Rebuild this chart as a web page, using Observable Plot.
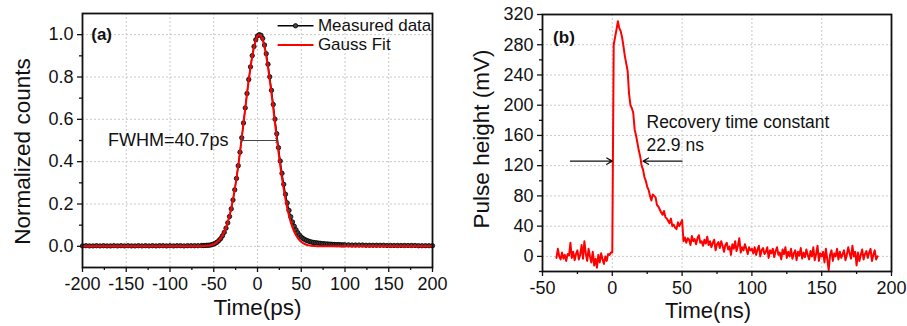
<!DOCTYPE html>
<html>
<head>
<meta charset="utf-8">
<script src="https://cdn.jsdelivr.net/npm/d3@7"></script>
<script src="https://cdn.jsdelivr.net/npm/@observablehq/plot@0.6"></script>
<style>
  html, body { margin: 0; padding: 0; background: #fff; }
  #wrap { position: relative; width: 907px; height: 326px; overflow: hidden; }
  #pa { position: absolute; left: 0; top: 0; }
  #pb { position: absolute; left: 450px; top: 0; }
</style>
</head>
<body>
<div id="wrap"><div id="pa"></div><div id="pb"></div></div>
<script>
// ---------- Panel (a) data ----------
const measT = [...d3.range(-200, -63, 4), ...d3.range(-62, 101, 2), ...d3.range(104, 201, 4)];
const measV = [
  // -200 .. -64 (step 4)
  0.002,0.003,0.002,0.002,0.003,0.002,0.003,0.002,0.002,0.003,
  0.002,0.003,0.002,0.003,0.002,0.002,0.003,0.002,0.003,0.002,
  0.003,0.002,0.003,0.003,0.002,0.003,0.002,0.003,0.003,0.002,
  0.003,0.003,0.003,0.003,0.004,
  // -62 .. 100 (step 2)
  0.004,0.004,0.005,0.005,0.006,0.008,0.011,0.015,0.020,0.028,
  0.037,0.050,0.066,0.086,0.111,0.141,0.177,0.219,0.267,0.321,
  0.381,0.445,0.513,0.583,0.654,0.722,0.788,0.848,0.901,0.944,
  0.976,0.994,1.000,0.997,0.982,0.951,0.910,0.860,0.801,0.737,
  0.670,0.601,0.532,0.466,0.403,0.345,0.293,0.246,0.205,0.170,
  0.140,0.115,0.095,0.078,0.064,0.053,0.044,0.037,0.032,0.028,
  0.025,0.022,0.020,0.018,0.017,0.016,0.015,0.014,0.013,0.012,
  0.011,0.011,0.010,0.010,0.009,0.009,0.008,0.008,0.008,0.007,
  0.007,0.007,
  // 104 .. 200 (step 4)
  0.007,0.006,0.006,0.006,0.006,0.005,0.005,0.005,0.005,0.005,
  0.005,0.004,0.004,0.004,0.004,0.004,0.004,0.004,0.004,0.004,
  0.003,0.003,0.003,0.003,0.003
];
const fitT = [-200, ...d3.range(-64, 70, 2), 200];
const fitV = [
  0,
  0.0007,0.0010,0.0016,0.0024,0.0036,0.0052,0.0076,0.0108,0.0152,0.0211,
  0.0289,0.0391,0.0522,0.0686,0.0891,0.1142,0.1443,0.1800,0.2215,0.2690,
  0.3224,0.3812,0.4447,0.5118,0.5813,0.6514,0.7202,0.7857,0.8458,0.8984,
  0.9415,0.9736,0.9933,
  0.9990,
  0.9933,0.9736,0.9415,0.8984,0.8458,0.7857,0.7202,0.6514,0.5813,0.5118,
  0.4447,0.3812,0.3224,0.2690,0.2215,0.1800,0.1443,0.1142,0.0891,0.0686,
  0.0522,0.0391,0.0289,0.0211,0.0152,0.0108,0.0076,0.0052,0.0036,0.0024,
  0.0016,0.0010,0.0007,
  0
];
const xTicksA = [-200,-150,-100,-50,0,50,100,150,200];
const xMinorA = [-175,-125,-75,-25,25,75,125,175];
const yTicksA = [0,0.2,0.4,0.6,0.8,1.0];
const yMinorA = [0.1,0.3,0.5,0.7,0.9];
const legendA = ["Measured data", "Gauss Fit"];

// ---------- Panel (b) data ----------
const pulseT = d3.range(-40, 191, 1);
const pulseV = [
  // -40 .. -1
  -2,10,0,-4,5,-3,2,-6,3,1,
  18,-2,6,-5,3,8,-4,2,15,-3,
  20,4,-6,10,0,-8,6,-12,-3,-15,
  2,-8,4,-4,-10,0,-6,3,2,5,
  // 0 .. 189
  5,280,290,300,311,302,298,290,278,265,
  255,245,215,200,196,190,168,160,150,140,
  132,120,115,105,100,92,88,80,74,82,
  80,78,68,66,62,58,55,60,52,50,
  47,44,50,40,42,38,36,45,40,44,
  48,20,25,18,24,22,15,27,20,23,
  16,24,28,18,20,14,22,17,26,15,
  20,12,18,22,8,16,19,11,20,14,
  6,15,18,9,13,2,16,10,20,7,
  14,24,5,12,8,16,10,3,12,8,
  10,4,12,2,9,14,0,8,11,3,
  6,12,-2,8,4,10,-1,7,12,2,
  5,-4,9,3,12,-2,6,0,10,-3,
  4,8,-5,6,1,11,-3,5,-1,9,
  2,-4,7,0,12,-5,3,14,-6,4,
  0,6,-8,10,-4,-18,2,8,-6,4,
  0,10,-4,6,-2,3,8,-5,2,12,
  4,-3,14,0,6,-12,5,-6,2,9,
  -4,3,7,-2,5,10,-6,2,8,-4,
  // 190
  0
];
const xTicksB = [-50,0,50,100,150,200];
const xMinorB = [-25,25,75,125,175];
const yTicksB = [0,40,80,120,160,200,240,280,320];
const yMinorB = [-20,20,60,100,140,180,220,260,300];

// ---------- build ----------
const FONT = "'Liberation Sans', Arial, Helvetica, sans-serif";
const measured = measT.map((t, i) => ({t, v: measV[i]}));
const fit = fitT.map((t, i) => ({t, v: fitV[i]}));
const pulse = pulseT.map((t, i) => ({t, v: pulseV[i]}));
const grid = {stroke: "#c8c8c8", strokeOpacity: 1, strokeDasharray: "2,2", strokeWidth: 1};

const plotA = Plot.plot({
  width: 450, height: 326,
  marginLeft: 82, marginRight: 18, marginTop: 13, marginBottom: 59,
  style: {fontFamily: FONT, color: "#111", background: "transparent"},
  x: {domain: [-200, 200]},
  y: {domain: [-0.1, 1.1]},
  marks: [
    Plot.gridX(xTicksA.slice(1, -1), grid),
    Plot.gridY(yTicksA, grid),
    Plot.axisX(xTicksA, {tickSize: 5, tickPadding: 5, fontSize: 18, tickFormat: d => String(d), label: null, strokeWidth: 1.3}),
    Plot.axisX(xMinorA, {tickSize: 3, tickFormat: () => "", label: null, strokeWidth: 1.3}),
    Plot.axisY(yTicksA, {tickSize: 5, tickPadding: 4, fontSize: 18, tickFormat: d3.format(".1f"), label: null, strokeWidth: 1.3}),
    Plot.axisY(yMinorA, {tickSize: 3, tickFormat: () => "", label: null, strokeWidth: 1.3}),
    Plot.line(measured, {x: "t", y: "v", stroke: "#000", strokeWidth: 1.3}),
    Plot.dot(measured, {x: "t", y: "v", r: 2.2, fill: "#444", stroke: "#000", strokeWidth: 0.8}),
    Plot.line(fit, {x: "t", y: "v", stroke: "#ff0000", strokeWidth: 2}),
    // FWHM marker
    Plot.link([0], {x1: -18, x2: 22, y1: 0.5, y2: 0.5, stroke: "#444", strokeWidth: 1, markerStart: "arrow", markerEnd: "arrow"}),
    Plot.text(["FWHM=40.7ps"], {x: -33, y: 0.5, textAnchor: "end", fontSize: 18, fill: "#111"}),
    Plot.text(["(a)"], {x: -190, y: 1.0, textAnchor: "start", fontSize: 17, fontWeight: "bold", fill: "#111"}),
    // legend
    Plot.link([0], {x1: 23, x2: 64, y1: 1.042, y2: 1.042, stroke: "#000", strokeWidth: 1.6}),
    Plot.dot([0], {x: 43.5, y: 1.042, r: 2.2, fill: "#444", stroke: "#000", strokeWidth: 0.8}),
    Plot.link([0], {x1: 23, x2: 64, y1: 0.951, y2: 0.951, stroke: "#ff0000", strokeWidth: 2}),
    Plot.text(legendA, {x: 69, y: [1.042, 0.951], textAnchor: "start", fontSize: 17, fill: "#111"}),
    // axis titles
    Plot.text(["Normalized counts"], {frameAnchor: "left", textAnchor: "middle", lineAnchor: "middle", rotate: -90, dx: -60, dy: 11, fontSize: 22.5, fill: "#111"}),
    Plot.text(["Time(ps)"], {frameAnchor: "bottom", textAnchor: "middle", lineAnchor: "middle", dy: 40, fontSize: 22.5, fill: "#111"}),
    Plot.frame({stroke: "#111", strokeWidth: 1.8})
  ]
});
document.getElementById("pa").append(plotA);

const plotB = Plot.plot({
  width: 457, height: 326,
  marginLeft: 92, marginRight: 16, marginTop: 14, marginBottom: 55,
  style: {fontFamily: FONT, color: "#111", background: "transparent"},
  x: {domain: [-50, 200]},
  y: {domain: [-20, 320]},
  marks: [
    Plot.gridX([0, 50, 100, 150], grid),
    Plot.gridY(yTicksB.slice(0, -1), grid),
    Plot.axisX(xTicksB, {tickSize: 5, tickPadding: 5, fontSize: 18, tickFormat: d => String(d), label: null, strokeWidth: 1.3}),
    Plot.axisX(xMinorB, {tickSize: 3, tickFormat: () => "", label: null, strokeWidth: 1.3}),
    Plot.axisY(yTicksB, {tickSize: 5, tickPadding: 4, fontSize: 18, tickFormat: d => String(d), label: null, strokeWidth: 1.3}),
    Plot.axisY(yMinorB, {tickSize: 3, tickFormat: () => "", label: null, strokeWidth: 1.3}),
    Plot.line(pulse, {x: "t", y: "v", stroke: "#ff0000", strokeWidth: 2}),
    Plot.arrow([0], {x1: -30, x2: 0, y1: 126, y2: 126, stroke: "#111", strokeWidth: 1.2, headLength: 8}),
    Plot.arrow([0], {x1: 50, x2: 22, y1: 126, y2: 126, stroke: "#111", strokeWidth: 1.2, headLength: 8}),
    Plot.text(["Recovery time constant", "22.9 ns"], {x: 24.5, y: [177, 147], textAnchor: "start", fontSize: 17.5, fill: "#111"}),
    Plot.text(["(b)"], {x: -42.4, y: 290, textAnchor: "start", fontSize: 17, fontWeight: "bold", fill: "#111"}),
    Plot.text(["Pulse height (mV)"], {frameAnchor: "left", textAnchor: "middle", lineAnchor: "middle", rotate: -90, dx: -61, dy: -4, fontSize: 22.5, fill: "#111"}),
    Plot.text(["Time(ns)"], {frameAnchor: "bottom", textAnchor: "middle", lineAnchor: "middle", dx: -9, dy: 39, fontSize: 22, fill: "#111"}),
    Plot.frame({stroke: "#111", strokeWidth: 1.8})
  ]
});
document.getElementById("pb").append(plotB);
</script>
</body>
</html>
